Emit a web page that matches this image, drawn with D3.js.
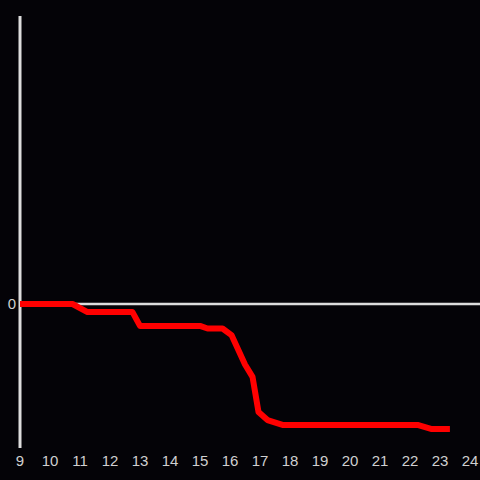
<!DOCTYPE html>
<html>
<head>
<meta charset="utf-8">
<script src="https://cdn.jsdelivr.net/npm/d3@7"></script>
<style>
  html, body { margin: 0; padding: 0; background: #040307; }
  svg { display: block; }
</style>
</head>
<body>
<div id="chart"></div>
<script>
// hours of day and the running value
const hours  = [9, 10.75, 11.25, 12.75, 13, 15, 15.25, 15.75, 16.05, 16.5, 16.75, 16.95, 17.25, 17.75, 22.25, 22.7, 23.33];
const values = [0, 0, -0.28, -0.28, -0.76, -0.76, -0.85, -0.85, -1.08, -2.1, -2.53, -3.75, -4.03, -4.2, -4.2, -4.34, -4.34];
const xTicks = d3.range(9, 25);
const yTicks = [0];

const W = 480, H = 480;
const font = 'Liberation Sans, Arial, sans-serif';
const svg = d3.select('#chart').append('svg')
  .attr('width', W).attr('height', H);

svg.append('rect').attr('width', W).attr('height', H).attr('fill', '#040307');

const x = d3.scaleLinear().domain([9, 24]).range([20, 470]);
const y = d3.scaleLinear().domain([-5, 10]).range([448, 16]);

// y axis line
svg.append('line')
  .attr('x1', x(9)).attr('x2', x(9))
  .attr('y1', y(10)).attr('y2', y(-5))
  .attr('stroke', '#dddddd').attr('stroke-width', 3);

// zero line
svg.append('line')
  .attr('x1', x(9)).attr('x2', W)
  .attr('y1', y(0)).attr('y2', y(0))
  .attr('stroke', '#dddddd').attr('stroke-width', 2.5);

// y tick labels
svg.selectAll('.ylab').data(yTicks).join('text')
  .attr('class', 'ylab')
  .attr('x', 16).attr('y', d => y(d))
  .attr('dy', '0.35em')
  .attr('text-anchor', 'end')
  .attr('fill', '#d0d0d0')
  .attr('font-family', font)
  .attr('font-size', 15)
  .text(d => d);

// x tick labels
svg.selectAll('.xlab').data(xTicks).join('text')
  .attr('class', 'xlab')
  .attr('x', d => x(d)).attr('y', 461)
  .attr('dy', '0.35em')
  .attr('text-anchor', 'middle')
  .attr('fill', '#d0d0d0')
  .attr('font-family', font)
  .attr('font-size', 15)
  .text(d => d);

const line = d3.line()
  .x((d, i) => x(hours[i]))
  .y(d => y(d));

svg.append('path')
  .datum(values)
  .attr('d', line)
  .attr('fill', 'none')
  .attr('stroke', '#ff0000')
  .attr('stroke-width', 6)
  .attr('stroke-linejoin', 'round');
</script>
</body>
</html>
